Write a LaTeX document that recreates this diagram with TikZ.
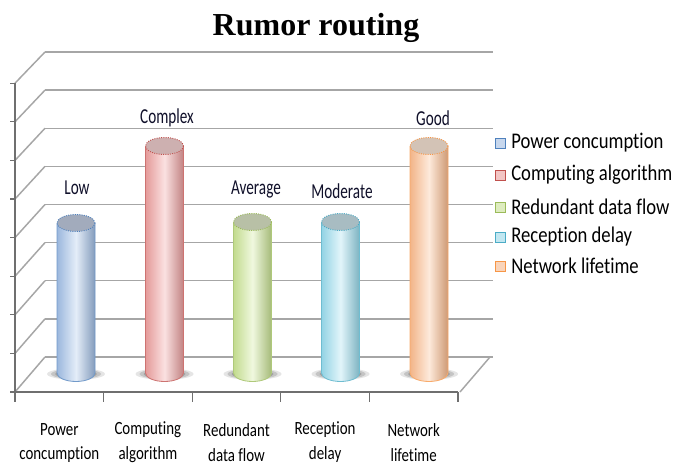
\documentclass[tikz,border=0pt]{standalone}
\usepackage{fontspec}
\usepackage{graphicx}
\setmainfont{Liberation Serif}
\newfontfamily\calfont[Ligatures=NoCommon]{Carlito}

\definecolor{gridgray}{HTML}{A6A6A6}
\definecolor{axgray}{HTML}{6F6F6F}
\definecolor{bluedge}{HTML}{4F81BD}
\definecolor{bluelt}{HTML}{E4EDF8}
\definecolor{bluedk}{HTML}{9BB7DD}
\definecolor{bluecap}{HTML}{A2ABBC}
\definecolor{rededge}{HTML}{C0504D}
\definecolor{redlt}{HTML}{FBE1E1}
\definecolor{reddk}{HTML}{E49A99}
\definecolor{redcap}{HTML}{CDB0B0}
\definecolor{grnedge}{HTML}{9BBB59}
\definecolor{grnlt}{HTML}{F0F8DF}
\definecolor{grndk}{HTML}{C2DB8E}
\definecolor{grncap}{HTML}{B8C0A6}
\definecolor{cyanedge}{HTML}{4BACC6}
\definecolor{cyanlt}{HTML}{E2F5FA}
\definecolor{cyandk}{HTML}{93D3E4}
\definecolor{cyancap}{HTML}{A8BCC2}
\definecolor{orgedge}{HTML}{F79646}
\definecolor{orglt}{HTML}{FDEADB}
\definecolor{orgdk}{HTML}{F2B488}
\definecolor{orgcap}{HTML}{D3C3B6}
\definecolor{txtdark}{HTML}{10102A}

% cylinder bar: centre x, cap centre y, light, dark, edge, cap fill
\newcommand{\barcyl}[6]{%
  \foreach \s/\o in {29/0.10,25/0.14,21/0.18,17/0.2}{%
    \fill[black,opacity=\o] (#1,374) ellipse [x radius=\s, y radius=\s*0.2];}
  \shade[left color=#4, right color=#4!85!black, middle color=#3, shading angle=90]
    (#1-19,#2) -- (#1-19,373) arc[start angle=180,end angle=0,x radius=19,y radius=8.5] -- (#1+19,#2) -- cycle;
  \draw[#5!80!white, line width=0.6pt]
    (#1-19,#2) -- (#1-19,373) arc[start angle=180,end angle=0,x radius=19,y radius=8.5] -- (#1+19,#2);
  \fill[#6] (#1,#2) ellipse [x radius=19, y radius=8.5];
  \draw[#5, densely dotted, line width=0.7pt] (#1,#2) ellipse [x radius=19, y radius=8.5];
}
\newcommand{\lblscale}[3]{\scalebox{#1}[#2]{#3}}

\begin{document}
\begin{tikzpicture}[x=0.75pt,y=-0.75pt,
  grid/.style={draw=gridgray, line width=1.1pt},
  axisline/.style={draw=axgray, line width=0.9pt},
  barlabel/.style={font=\calfont\fontsize{11.4}{12}\selectfont, text=txtdark, inner sep=0pt},
  catlabel/.style={font=\calfont\fontsize{11.2}{12}\selectfont, text=black, inner sep=0pt, align=center},
  legtext/.style={font=\calfont\fontsize{14}{14}\selectfont, text=black, inner sep=0pt, anchor=west},
  legbox/.style={minimum size=7.5pt, inner sep=0pt, line width=0.6pt}]

\fill[white] (0,0) rectangle (678,466);
\useasboundingbox (0,0) rectangle (678,466);

% title
\node[font=\bfseries\fontsize{24}{26}\selectfont, inner sep=0pt] (title) at (316,28) {Rumor routing};

% back wall gridlines and side-wall diagonals
\foreach \i in {0,...,8}{
  \pgfmathsetmacro{\yb}{357-38.125*\i}
  \pgfmathsetmacro{\yf}{392-38.6*\i}
  \draw[grid] (45,\yb) -- (493,\yb);
  \draw[grid] (45,\yb) -- (15,\yf);
}
% floor right edge
\draw[grid] (490,357) -- (460,392);

% vertical axis with ticks
\draw[axisline] (15,83) -- (15,392);
\foreach \i in {0,...,8}{
  \pgfmathsetmacro{\yf}{392-38.6*\i}
  \draw[axisline] (10,\yf) -- (15,\yf);
}
% category axis with ticks
\draw[axisline] (15,392) -- (458,392);
\foreach \xx in {15,103.6,192.2,280.8,369.4,458}{
  \draw[axisline] (\xx,392) -- (\xx,402);
}

% bars
\barcyl{76}{223}{bluelt}{bluedk}{bluedge}{bluecap}
\barcyl{164.5}{146}{redlt}{reddk}{rededge}{redcap}
\barcyl{252.5}{222}{grnlt}{grndk}{grnedge}{grncap}
\barcyl{340.5}{222}{cyanlt}{cyandk}{cyanedge}{cyancap}
\barcyl{429}{146}{orglt}{orgdk}{orgedge}{orgcap}

% value labels
\node[barlabel] (lLow) at (77,188) {\lblscale{1}{1.4}{Low}};
\node[barlabel] (lComplex) at (167,118) {\lblscale{1}{1.4}{Complex}};
\node[barlabel] (lAverage) at (256,190) {\lblscale{1}{1.4}{Average}};
\node[barlabel] (lModerate) at (342,191) {\lblscale{1}{1.4}{Moderate}};
\node[barlabel] (lGood) at (433,118) {\lblscale{1}{1.4}{Good}};

% category labels
\node[catlabel] (c1a) at (59.3,430) {\lblscale{1}{1.25}{Power}};
\node[catlabel] (c1b) at (59.3,455) {\lblscale{1}{1.25}{concumption}};
\node[catlabel] (c2a) at (147.9,430) {\lblscale{1}{1.25}{Computing}};
\node[catlabel] (c2b) at (147.9,455) {\lblscale{1}{1.25}{algorithm}};
\node[catlabel] (c3a) at (236.5,430) {\lblscale{1}{1.25}{Redundant}};
\node[catlabel] (c3b) at (236.5,455) {\lblscale{1}{1.25}{data flow}};
\node[catlabel] (c4a) at (325.1,430) {\lblscale{1}{1.25}{Reception}};
\node[catlabel] (c4b) at (325.1,455) {\lblscale{1}{1.25}{delay}};
\node[catlabel] (c5a) at (413.7,430) {\lblscale{1}{1.25}{Network}};
\node[catlabel] (c5b) at (413.7,455) {\lblscale{1}{1.25}{lifetime}};

% legend
\foreach \k/\yy/\ec/\fc/\t in {1/143/bluedge/bluelt!60!bluedk/Power concumption,
                          2/175/rededge/redlt!60!reddk/Computing algorithm,
                          3/207/grnedge/grnlt!60!grndk/Redundant data flow,
                          4/237/cyanedge/cyanlt!60!cyandk/Reception delay,
                          5/266/orgedge/orglt!60!orgdk/Network lifetime}{
  \node[legbox, draw=\ec, fill=\fc] (key\k) at (500,\yy) {};
  \node[legtext] (leg\k) at (511,\yy) {\lblscale{1}{1.2}{\t}};
}
\end{tikzpicture}
\end{document}
